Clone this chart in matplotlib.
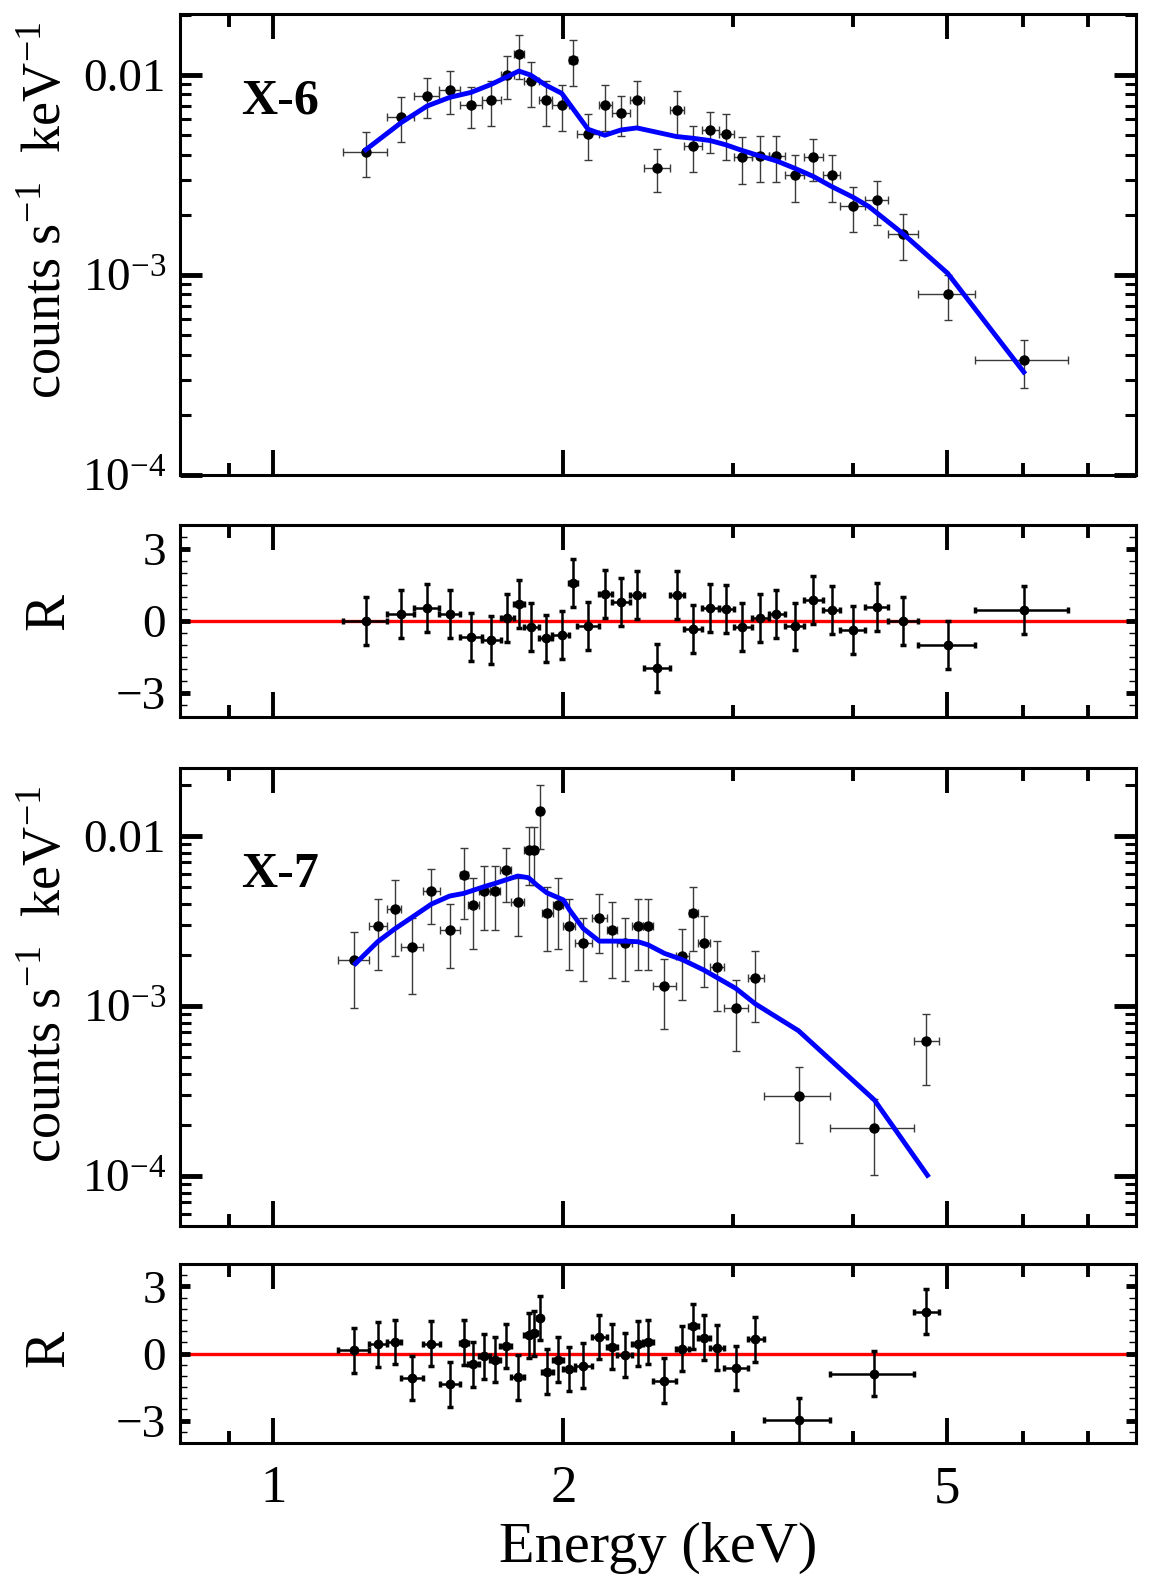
import numpy as np
import matplotlib
matplotlib.use("Agg")
import matplotlib.pyplot as plt
from matplotlib.ticker import FixedLocator, NullFormatter, MultipleLocator, LogLocator

plt.rcParams['font.family'] = ['Liberation Serif', 'DejaVu Serif']
plt.rcParams['mathtext.fontset'] = 'stix'

# ---- X-6 spectrum ----
x6_e = [1.247, 1.357, 1.444, 1.525, 1.604, 1.683, 1.748, 1.798, 1.849, 1.917, 1.992,
        2.048, 2.121, 2.208, 2.294, 2.384, 2.499, 2.623, 2.725, 2.841, 2.948, 3.068,
        3.198, 3.328, 3.475, 3.635, 3.797, 3.995, 4.228, 4.502, 5.01, 6.01]
x6_edges = [1.181, 1.313, 1.401, 1.484, 1.561, 1.647, 1.721, 1.777, 1.820, 1.887, 1.948,
            2.027, 2.068, 2.178, 2.245, 2.346, 2.423, 2.580, 2.669, 2.786, 2.899, 3.006,
            3.136, 3.267, 3.396, 3.555, 3.717, 3.877, 4.108, 4.341, 4.666, 5.351, 6.68]
x6_flux = [0.00414, 0.00619, 0.00788, 0.00841, 0.00711, 0.00748, 0.0100, 0.01267, 0.00937,
           0.00748, 0.00711, 0.01188, 0.00507, 0.00711, 0.00644, 0.00748, 0.00343, 0.00672,
           0.00443, 0.00533, 0.00507, 0.00388, 0.00394, 0.00394, 0.00317, 0.00388, 0.00317,
           0.00221, 0.00237, 0.00161, 0.00080, 0.000375]
x6_flux_lo = [0.00308, 0.00461, 0.00612, 0.00638, 0.00542, 0.00556, 0.00759, 0.00955, 0.00695,
              0.00556, 0.00527, 0.00881, 0.00377, 0.00527, 0.00496, 0.00542, 0.00259, 0.00502,
              0.00328, 0.00406, 0.00377, 0.00286, 0.00291, 0.00291, 0.00233, 0.00296, 0.00233,
              0.00164, 0.00177, 0.00119, 0.000598, 0.000273]
x6_flux_hi = [0.00518, 0.00780, 0.00970, 0.01047, 0.00875, 0.00933, 0.01249, 0.01585, 0.01166,
              0.00933, 0.00891, 0.01496, 0.00638, 0.00891, 0.00788, 0.00933, 0.00428, 0.00835,
              0.00556, 0.00656, 0.00638, 0.00489, 0.00496, 0.00496, 0.00399, 0.00477, 0.00399,
              0.00277, 0.00296, 0.00202, 0.00100, 0.000475]
x6_model_e = [1.247, 1.357, 1.444, 1.525, 1.604, 1.683, 1.748, 1.798, 1.849, 1.917, 1.992,
              2.121, 2.208, 2.294, 2.384, 2.623, 2.725, 2.841, 2.948, 3.068, 3.198, 3.328,
              3.475, 3.635, 3.797, 3.995, 4.15, 4.502, 5.01, 6.01]
x6_model_f = [0.00423, 0.00578, 0.0070, 0.00774, 0.00819, 0.00898, 0.00981, 0.01047, 0.0100,
              0.00891, 0.00810, 0.00536, 0.00500, 0.00531, 0.00544, 0.00492, 0.00483, 0.0047,
              0.00448, 0.00419, 0.00394, 0.00372, 0.00342, 0.00311, 0.00277, 0.00245, 0.0022,
              0.00161, 0.00102, 0.000327]
x6_resid = [0.0, 0.31, 0.54, 0.31, -0.66, -0.81, 0.14, 0.69, -0.26, -0.73, -0.57, 1.59,
            -0.2, 1.12, 0.78, 1.08, -1.96, 1.08, -0.34, 0.55, 0.50, -0.26, 0.14, 0.31,
            -0.23, 0.88, 0.47, -0.36, 0.58, 0.0, -0.99, 0.45]

# ---- X-7 spectrum ----
x7_e = [1.212, 1.283, 1.336, 1.393, 1.459, 1.524, 1.576, 1.611, 1.655, 1.699, 1.743, 1.793,
        1.840, 1.866, 1.889, 1.925, 1.976, 2.027, 2.097, 2.179, 2.244, 2.317, 2.391, 2.449,
        2.545, 2.655, 2.729, 2.797, 2.884, 3.02, 3.164, 3.508, 4.206, 4.762]
x7_edges = [1.168, 1.256, 1.312, 1.358, 1.429, 1.488, 1.561, 1.592, 1.633, 1.677, 1.719, 1.764,
            1.822, 1.854, 1.877, 1.899, 1.952, 2.0, 2.057, 2.140, 2.218, 2.271, 2.354, 2.420,
            2.480, 2.615, 2.700, 2.757, 2.836, 2.933, 3.111, 3.228, 3.784, 4.628, 4.905]
x7_flux = [0.00187, 0.00296, 0.00374, 0.00223, 0.00473, 0.00282, 0.00588, 0.00393, 0.00473,
           0.00473, 0.00628, 0.00411, 0.00827, 0.00827, 0.0141, 0.00354, 0.00393, 0.00296,
           0.00236, 0.00331, 0.0028, 0.00236, 0.00296, 0.00296, 0.00131, 0.00196, 0.00354,
           0.00236, 0.00169, 0.00098, 0.00147, 0.000296, 0.000193, 0.00062]
x7_flux_lo = [0.00098, 0.00163, 0.00197, 0.00118, 0.00303, 0.00167, 0.00325, 0.00216, 0.00279,
              0.00279, 0.00407, 0.00257, 0.00515, 0.00515, 0.00839, 0.00211, 0.00216, 0.00163,
              0.0014, 0.00205, 0.00147, 0.0014, 0.00163, 0.00163, 0.00073, 0.00109, 0.0021,
              0.0013, 0.000935, 0.000543, 0.00081, 0.000156, 0.0001015, 0.000343]
x7_flux_hi = [0.00274, 0.00426, 0.00548, 0.00328, 0.0064, 0.00398, 0.00854, 0.00569, 0.00664,
              0.00664, 0.00846, 0.00569, 0.01136, 0.01136, 0.01995, 0.00499, 0.00569, 0.00426,
              0.00331, 0.00454, 0.00411, 0.00331, 0.00426, 0.00426, 0.00189, 0.00284, 0.00499,
              0.0034, 0.00243, 0.00142, 0.00212, 0.000436, 0.000283, 0.000897]
x7_model_e = [1.217, 1.283, 1.336, 1.393, 1.459, 1.524, 1.576, 1.655, 1.699, 1.793, 1.840,
              1.877, 1.922, 2.0, 2.03, 2.097, 2.179, 2.244, 2.317, 2.391, 2.449, 2.547, 2.655,
              2.797, 3.02, 3.164, 3.508, 4.206, 4.774]
x7_model_f = [0.00178, 0.00239, 0.00284, 0.00333, 0.00398, 0.00444, 0.0046, 0.00504, 0.00527,
              0.00582, 0.00569, 0.00515, 0.00464, 0.00421, 0.00367, 0.00286, 0.00241, 0.00241,
              0.00241, 0.00239, 0.00229, 0.00204, 0.00188, 0.00163, 0.00127, 0.00103, 0.000716,
              0.00028, 0.000101]
x7_resid = [0.15, 0.41, 0.51, -1.09, 0.44, -1.38, 0.49, -0.49, -0.13, -0.28, 0.34, -1.07,
            0.82, 0.90, 1.59, -0.81, -0.28, -0.69, -0.54, 0.74, 0.31, -0.07, 0.44, 0.51,
            -1.21, 0.22, 1.22, 0.71, 0.26, -0.65, 0.63, -2.99, -0.91, 1.87]

energy_ticks = [1, 2, 5]
energy_minor = [0.9, 3, 4, 6, 7]


def style_x(ax, labels):
    ax.set_xscale('log')
    ax.set_xlim(0.8, 7.85)
    ax.xaxis.set_major_locator(FixedLocator(energy_ticks))
    ax.xaxis.set_minor_locator(FixedLocator(energy_minor))
    ax.xaxis.set_minor_formatter(NullFormatter())
    if labels:
        ax.set_xticklabels([str(t) for t in energy_ticks])
    else:
        ax.set_xticklabels([])
    ax.tick_params(axis='x', which='major', direction='in', top=True, length=18, width=2.8,
                   labelsize=38, pad=16)
    ax.tick_params(axis='x', which='minor', direction='in', top=True, length=9, width=2.8)
    for s in ax.spines.values():
        s.set_linewidth(2.2)


def spectrum(ax, e, edges, f, flo, fhi, me, mf, name, ylim, name_y):
    e = np.array(e); edges = np.array(edges)
    f = np.array(f)
    xerr = [e - edges[:-1], edges[1:] - e]
    yerr = [f - np.array(flo), np.array(fhi) - f]
    ax.errorbar(e, f, xerr=xerr, yerr=yerr, fmt='o', color='black', ms=6.5,
                ecolor='#3a3a3a', elinewidth=1.0, capsize=3, capthick=1.0, zorder=2)
    ax.plot(me, mf, color='#0000ff', lw=3.5, zorder=3)
    ax.set_yscale('log')
    ax.set_ylim(*ylim)
    ax.set_yticks([1e-4, 1e-3, 1e-2],
                  labels=[r'$\mathregular{10^{-4}}$', r'$\mathregular{10^{-3}}$', '0.01'])
    ax.yaxis.set_minor_locator(LogLocator(base=10, subs=np.arange(2, 10), numticks=20))
    ax.yaxis.set_minor_formatter(NullFormatter())
    ax.tick_params(axis='y', which='major', direction='in', right=True, length=16, width=3.5,
                   labelsize=34, pad=10)
    ax.tick_params(axis='y', which='minor', direction='in', right=True, length=8, width=2.2)
    ax.text(0.064, name_y, name, transform=ax.transAxes, fontsize=36, fontweight='bold',
            ha='left', va='baseline')
    ax.set_ylabel(r'counts s$^{\mathregular{-1}}$  keV$^{\mathregular{-1}}$', fontsize=39)


def residual(ax, e, edges, r):
    e = np.array(e); edges = np.array(edges)
    xerr = [e - edges[:-1], edges[1:] - e]
    ax.axhline(0, color='#ff0000', lw=2.4, zorder=1)
    ax.errorbar(e, r, xerr=xerr, yerr=1.0, fmt='o', color='black', ms=6,
                ecolor='black', elinewidth=1.8, capsize=2.2, capthick=2.5, zorder=2)
    ax.set_ylim(-4, 4)
    ax.set_yticks([-3, 0, 3], labels=['\u22123', '0', '3'])
    ax.yaxis.set_minor_locator(MultipleLocator(0.5))
    ax.tick_params(axis='y', which='major', direction='in', right=True, length=7, width=3.5,
                   labelsize=34, pad=10)
    ax.tick_params(axis='y', which='minor', direction='in', right=True, length=5, width=1.0)
    ax.set_ylabel('R', fontsize=40)


fig = plt.figure(figsize=(11.54, 15.89), dpi=100)
left, width = 0.156, 0.828
ax1 = fig.add_axes([left, 0.7011, width, 0.2901])
ax2 = fig.add_axes([left, 0.5488, width, 0.1208])
ax3 = fig.add_axes([left, 0.2284, width, 0.2882])
ax4 = fig.add_axes([left, 0.0919, width, 0.1126])

spectrum(ax1, x6_e, x6_edges, x6_flux, x6_flux_lo, x6_flux_hi, x6_model_e, x6_model_f,
         'X-6', (1e-4, 0.0202), 0.785)
residual(ax2, x6_e, x6_edges, x6_resid)
spectrum(ax3, x7_e, x7_edges, x7_flux, x7_flux_lo, x7_flux_hi, x7_model_e, x7_model_f,
         'X-7', (5.08e-5, 0.0251), 0.740)
residual(ax4, x7_e, x7_edges, x7_resid)

for ax in (ax1, ax2, ax3):
    style_x(ax, False)
style_x(ax4, True)
ax4.set_xlabel('Energy (keV)', fontsize=42, labelpad=6)

ax1.yaxis.set_label_coords(-0.112, 0.575)
ax3.yaxis.set_label_coords(-0.112, 0.55)
ax2.yaxis.set_label_coords(-0.109, 0.55)
ax4.yaxis.set_label_coords(-0.109, 0.53)

fig.savefig('out.png', dpi=100)
